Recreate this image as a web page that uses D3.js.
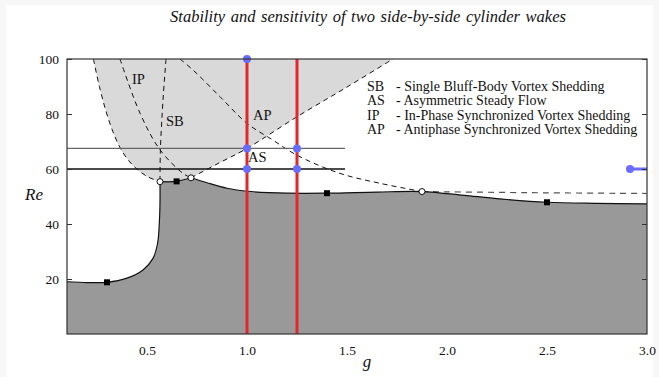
<!DOCTYPE html>
<html>
<head>
<meta charset="utf-8">
<script src="https://cdn.jsdelivr.net/npm/d3@7"></script>
<style>
  html, body { margin: 0; padding: 0; background: #f7f7f7; }
  svg { display: block; }
  text { font-family: "Liberation Serif", "Times New Roman", serif; fill: #111; }
</style>
</head>
<body>
<svg id="chart" width="659" height="377"></svg>
<script>
// ---- data (g, Re) ----
const xTicks = [0.5, 1.0, 1.5, 2.0, 2.5, 3.0];
const yTicks = [20, 40, 60, 80, 100];

// primary instability curve, split at the corner (open circle at g=0.565)
const critLeft = [[0.1, 19.0], [0.2, 18.7], [0.3, 18.8], [0.4, 20.3], [0.48, 23.3], [0.53, 27.5],
  [0.553, 33], [0.562, 41], [0.565, 48], [0.565, 55.4]];
const critMid = [[0.565, 55.4], [0.648, 55.5], [0.72, 56.8]];
const critRight = [[0.72, 56.8], [0.8, 55.0], [0.9, 53.0], [1.0, 51.9], [1.2, 51.2], [1.4, 51.2],
  [1.65, 51.6], [1.875, 51.8], [2.1, 50.3], [2.3, 48.9], [2.5, 47.9], [2.75, 47.5], [3.0, 47.3]];

// boundaries of the light grey region (dashed)
const leftBranch = [[0.232, 100], [0.262, 90], [0.295, 81], [0.33, 73.5], [0.375, 66.5],
  [0.43, 61.3], [0.5, 57.3], [0.565, 55.4]];
const rightBranch = [[0.72, 56.8], [0.85, 61.8], [1.0, 67.5], [1.25, 79], [1.5, 89.8], [1.73, 100]];

// other dashed curves
const ipLine = [[0.365, 100], [0.465, 80.3], [0.565, 67], [0.68, 58.4], [0.72, 56.8]];
const sbLine = [[0.595, 100], [0.58, 85], [0.567, 67], [0.565, 55.4]];
const apLine = [[0.665, 100], [0.73, 96], [0.865, 86.3], [1.0, 76.6], [1.13, 70.5], [1.25, 65],
  [1.465, 58.4], [1.665, 54.8], [1.875, 51.8]];
const apTail = [[1.875, 51.8], [2.4, 51.4], [3.0, 51.1]];

// markers
const squares = [[0.3, 18.8], [0.648, 55.5], [1.4, 51.2], [2.5, 47.9]];
const circles = [[0.565, 55.4], [0.72, 56.8], [1.875, 51.8]];

// study lines / points
const redG = [1.0, 1.25];
const refRe = [60, 67.5];
const refEnd = 1.49;
const bluePts = [[1.0, 100], [1.0, 67.5], [1.0, 60], [1.25, 67.5], [1.25, 60]];
const blueEdge = [[2.915, 60], [3.0, 60]];

const labels = [["IP", 0.425, 91], ["SB", 0.595, 75.5], ["AP", 1.03, 78], ["AS", 1.005, 62.5]];
const legendCodes = ["SB", "AS", "IP", "AP"];
const legendText = ["- Single Bluff-Body Vortex Shedding", "- Asymmetric Steady Flow",
  "- In-Phase Synchronized Vortex Shedding", "- Antiphase Synchronized Vortex Shedding"];

// ---- drawing ----
const svg = d3.select("#chart");
svg.append("rect").attr("x", 6).attr("y", 5).attr("width", 647).attr("height", 372).attr("fill", "#fff");

const x = d3.scaleLinear().domain([0.1, 3.0]).range([67, 647]);
const y = d3.scaleLinear().domain([0, 100]).range([334, 59]);

const curve = d3.line().x(d => x(d[0])).y(d => y(d[1])).curve(d3.curveCatmullRom.alpha(0.5));
const cont = pts => curve(pts).replace(/^M/, "L");

const plot = svg.append("g");

// light grey region
plot.append("path")
  .attr("d", curve(leftBranch) + cont(critMid) + cont(rightBranch) + "Z")
  .attr("fill", "#d9d9d9");

// dark grey region
plot.append("path")
  .attr("d", `M${x(0.1)},${y(0)}` + cont(critLeft) + cont(critMid) + cont(critRight) +
    `L${x(3.0)},${y(0)}Z`)
  .attr("fill", "#999");

// dashed lines
[leftBranch, rightBranch, ipLine, sbLine, apLine].forEach(pts => {
  plot.append("path").attr("d", curve(pts))
    .attr("fill", "none").attr("stroke", "#111").attr("stroke-width", 1)
    .attr("stroke-dasharray", "5,4");
});
plot.append("path").attr("d", curve(apTail))
  .attr("fill", "none").attr("stroke", "#555").attr("stroke-width", 1.2)
  .attr("stroke-dasharray", "6,5");

// reference horizontal lines
plot.selectAll(".ref").data(refRe).join("line")
  .attr("x1", x(0.1)).attr("x2", x(refEnd))
  .attr("y1", d => y(d)).attr("y2", d => y(d))
  .attr("stroke", (d, i) => i === 0 ? "#111" : "#666")
  .attr("stroke-width", (d, i) => i === 0 ? 1.4 : 1.1);

// critical curve
[critLeft, critMid, critRight].forEach(pts => {
  plot.append("path").attr("d", curve(pts))
    .attr("fill", "none").attr("stroke", "#111").attr("stroke-width", 1.2);
});

// red lines
plot.selectAll(".red").data(redG).join("line")
  .attr("x1", d => x(d)).attr("x2", d => x(d))
  .attr("y1", y(0)).attr("y2", y(100))
  .attr("stroke", "#e3262c").attr("stroke-width", 3);

// markers
plot.selectAll(".sq").data(squares).join("rect")
  .attr("x", d => x(d[0]) - 3).attr("y", d => y(d[1]) - 3)
  .attr("width", 6).attr("height", 6).attr("fill", "#000");
plot.selectAll(".oc").data(circles).join("circle")
  .attr("cx", d => x(d[0])).attr("cy", d => y(d[1])).attr("r", 3)
  .attr("fill", "#fff").attr("stroke", "#111").attr("stroke-width", 1);

// blue points
plot.append("line")
  .attr("x1", x(blueEdge[0][0])).attr("x2", x(blueEdge[1][0]))
  .attr("y1", y(blueEdge[0][1])).attr("y2", y(blueEdge[1][1]))
  .attr("stroke", "#6b6bff").attr("stroke-width", 3);
plot.selectAll(".bp").data(bluePts.concat([blueEdge[0]])).join("circle")
  .attr("cx", d => x(d[0])).attr("cy", d => y(d[1])).attr("r", 4)
  .attr("fill", "#6b6bff");

// frame
svg.append("rect")
  .attr("x", x(0.1)).attr("y", y(100))
  .attr("width", x(3.0) - x(0.1)).attr("height", y(0) - y(100))
  .attr("fill", "none").attr("stroke", "#333").attr("stroke-width", 1.2);

// axes
const axL = svg.append("g").attr("transform", `translate(${x(0.1)},0)`)
  .call(d3.axisLeft(y).tickValues(yTicks).tickSizeInner(-5).tickSizeOuter(0).tickPadding(8));
const axR = svg.append("g").attr("transform", `translate(${x(3.0)},0)`)
  .call(d3.axisRight(y).tickValues(yTicks).tickSizeInner(-5).tickSizeOuter(0).tickFormat(""));
const axB = svg.append("g").attr("transform", `translate(0,${y(0)})`)
  .call(d3.axisBottom(x).tickValues(xTicks).tickSize(0).tickPadding(11).tickFormat(d3.format(".1f")));
[axL, axR, axB].forEach(a => {
  a.select(".domain").remove();
  a.selectAll("line").attr("stroke", "#333");
  a.selectAll("text").attr("font-size", 13.5).attr("font-family", "Liberation Serif, serif").attr("fill", "#111");
});

// region labels
svg.selectAll(".lab").data(labels).join("text")
  .attr("x", d => x(d[1])).attr("y", d => y(d[2]))
  .attr("font-size", 14.5).text(d => d[0]);

// legend
const leg = svg.append("g");
leg.selectAll(".c").data(legendCodes).join("text")
  .attr("x", 367).attr("y", (d, i) => 90.5 + i * 14.5).attr("font-size", 14).text(d => d);
leg.selectAll(".t").data(legendText).join("text")
  .attr("x", 396).attr("y", (d, i) => 90.5 + i * 14.5).attr("font-size", 14).text(d => d);

// titles
svg.append("text").attr("x", 368).attr("y", 22).attr("text-anchor", "middle")
  .attr("font-size", 16.5).attr("font-style", "italic").attr("word-spacing", 1.5)
  .text("Stability and sensitivity of two side-by-side cylinder wakes");
svg.append("text").attr("x", 25).attr("y", 200)
  .attr("font-size", 17).attr("font-style", "italic").text("Re");
svg.append("text").attr("x", x(1.6)).attr("y", 367).attr("text-anchor", "middle")
  .attr("font-size", 17).attr("font-style", "italic").text("g");
</script>
</body>
</html>
